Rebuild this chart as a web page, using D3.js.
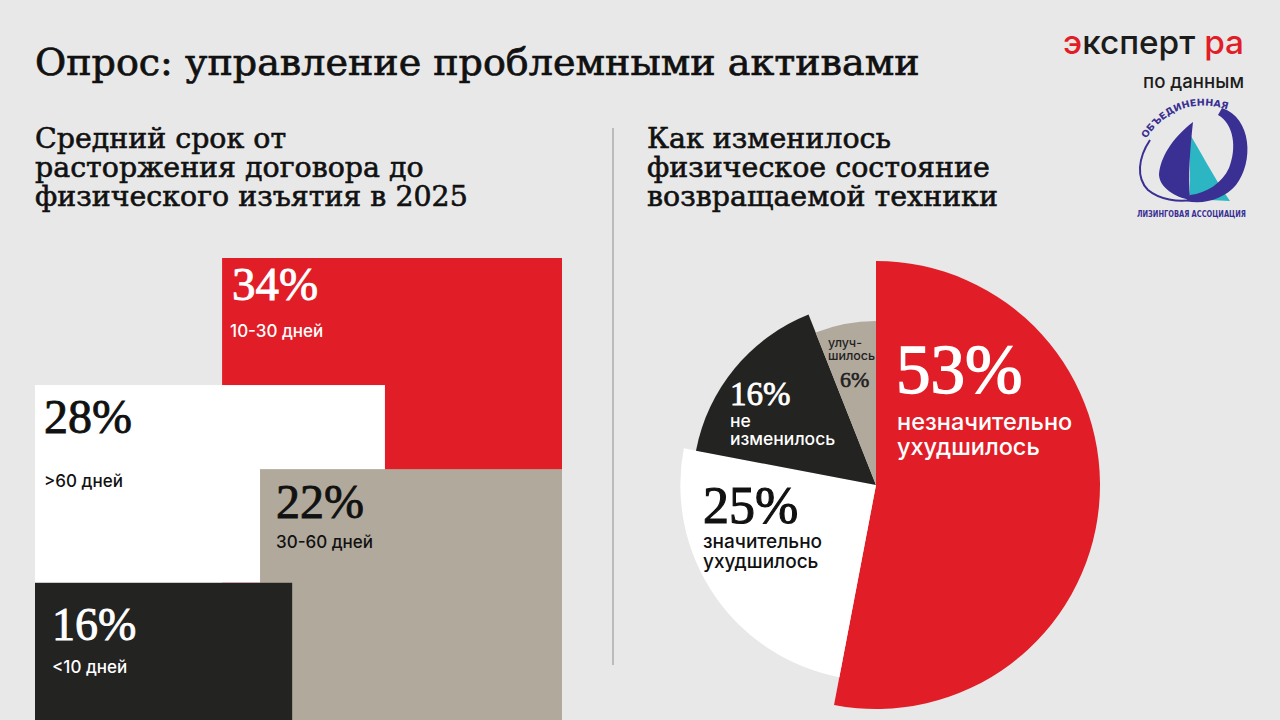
<!DOCTYPE html>
<html><head><meta charset="utf-8">
<script src="https://cdn.jsdelivr.net/npm/d3@7"></script>
<style>html,body{margin:0;padding:0;background:#e8e8e8;} svg{display:block}</style>
</head><body><svg id="c" width="1280" height="720"></svg>
<script>
// ---------- data ----------
const titleText = "Опрос: управление проблемными активами";
const leftSubtitle = ["Средний срок от", "расторжения договора до", "физического изъятия в 2025"];
const rightSubtitle = ["Как изменилось", "физическое состояние", "возвращаемой техники"];

const termCategories = ["10-30 дней", ">60 дней", "30-60 дней", "<10 дней"];
const termValues = [34, 28, 22, 16];

const stateCategories = [["незначительно", "ухудшилось"], ["значительно", "ухудшилось"], ["не", "изменилось"], ["улуч-", "шилось"]];
const stateValues = [53, 25, 16, 6];

const sourceLines = ["эксперт ра", "по данным"];
const assocLines = ["ОБЪЕДИНЕННАЯ", "ЛИЗИНГОВАЯ АССОЦИАЦИЯ"];

// ---------- styles / layout ----------
const C = { bg: "#e8e8e8", red: "#e11e27", white: "#ffffff", beige: "#b1a99c", dark: "#232321", blue: "#3a2f93", teal: "#2cb5c2" };
const termColors = [C.red, C.white, C.beige, C.dark];
const termText = ["#ffffff", "#111111", "#111111", "#ffffff"];
const stateColors = [C.red, C.white, C.dark, C.beige];
const stateText = ["#ffffff", "#111111", "#ffffff", "#222222"];

const SERIF = "'DejaVu Serif', serif";
const NUM = "'Liberation Serif', 'Times New Roman', serif";
const SANS = "Inter, 'Open Sans', sans-serif";

const svg = d3.select("#c");
svg.append("rect").attr("width", 1280).attr("height", 720).attr("fill", C.bg);

function fitBlock(sel, target) {
  let w = 0;
  sel.each(function () { w = Math.max(w, this.getComputedTextLength()); });
  const fs = parseFloat(sel.attr("font-size"));
  sel.attr("font-size", fs * target / w);
}

// ---------- titles ----------
const t = svg.append("text").attr("x", 35).attr("y", 75).attr("font-family", SERIF)
  .attr("font-size", 36).attr("fill", "#111").attr("stroke", "#111").attr("stroke-width", 0.7)
  .text(titleText);
fitBlock(t, 885);

const subL = svg.append("g").selectAll("text").data(leftSubtitle).join("text")
  .attr("x", 35).attr("y", (d, i) => 148 + i * 29).attr("font-family", SERIF)
  .attr("font-size", 28).attr("fill", "#111").attr("stroke", "#111").attr("stroke-width", 0.6)
  .text(d => d);
fitBlock(subL, 433);
const subR = svg.append("g").selectAll("text").data(rightSubtitle).join("text")
  .attr("x", 647).attr("y", (d, i) => 148 + i * 29).attr("font-family", SERIF)
  .attr("font-size", 28).attr("fill", "#111").attr("stroke", "#111").attr("stroke-width", 0.6)
  .text(d => d);
fitBlock(subR, 351);

svg.append("line").attr("x1", 613).attr("x2", 613).attr("y1", 128).attr("y2", 665)
  .attr("stroke", "#8e8e8e").attr("stroke-width", 1);

// ---------- left: overlapping blocks ----------
const px = d3.scaleLinear().domain([0, 100]).range([35, 562]);
const py = d3.scaleLinear().domain([0, 100]).range([258, 720]);
// block extents in panel units (0..100), drawing order and label offsets
const blockLayout = [
  { x: [35.5, 100], y: [0, 100], z: 0, pct: [10, 42], lab: [8, 79], fs: 47 },
  { x: [0, 66.4], y: [27.5, 70.3], z: 1, pct: [9, 48], lab: [9, 102], fs: 48 },
  { x: [42.7, 100], y: [45.7, 100], z: 2, pct: [16, 49], lab: [16, 79], fs: 48 },
  { x: [0, 48.8], y: [70.3, 100], z: 3, pct: [17, 57], lab: [17, 90], fs: 46 }
];
const blocks = termValues.map((v, i) => ({ v, cat: termCategories[i], i, L: blockLayout[i] }))
  .sort((a, b) => a.L.z - b.L.z);
const bg = svg.append("g").selectAll("g").data(blocks).join("g");
bg.append("rect")
  .attr("x", d => px(d.L.x[0])).attr("y", d => py(d.L.y[0]))
  .attr("width", d => px(d.L.x[1]) - px(d.L.x[0]))
  .attr("height", d => py(d.L.y[1]) - py(d.L.y[0]))
  .attr("fill", d => termColors[d.i]);
bg.append("text")
  .attr("x", d => px(d.L.x[0]) + d.L.pct[0]).attr("y", d => py(d.L.y[0]) + d.L.pct[1])
  .attr("font-family", NUM).attr("font-size", d => d.L.fs).attr("fill", d => termText[d.i])
  .attr("stroke", d => termText[d.i]).attr("stroke-width", 0.9)
  .text(d => d.v + "%");
bg.append("text")
  .attr("x", d => px(d.L.x[0]) + d.L.lab[0]).attr("y", d => py(d.L.y[0]) + d.L.lab[1])
  .attr("font-family", SANS).attr("font-weight", 500).attr("font-size", 17).attr("fill", d => termText[d.i])
  .text(d => d.cat);

// ---------- right: pie with varying radii ----------
const cx = 876, cy = 485;
const rScale = d3.scalePow().exponent(0.5).domain([6, 53]).range([164, 224]);
const pie = d3.pie().sort(null).value(d => d).startAngle(0).endAngle(2 * Math.PI);
const arcs = pie(stateValues);
const pg = svg.append("g").attr("transform", `translate(${cx},${cy})`);
pg.selectAll("path").data(arcs).join("path")
  .attr("d", d => d3.arc().innerRadius(0).outerRadius(rScale(d.data))(d))
  .attr("fill", (d, i) => stateColors[i]);

// label layout relative to centre
const pieLabelLayout = [
  { pct: [20, -92], pfs: 69, sw: 1.4, lab: [21, -55], lfs: 23.5, lh: 25 },
  { pct: [-173, 38], pfs: 52, sw: 1.1, lab: [-173, 63], lfs: 19, lh: 20 },
  { pct: [-146, -80], pfs: 33, sw: 0.8, lab: [-146, -58], lfs: 17.5, lh: 17.5 },
  { pct: [-36, -98], pfs: 22, sw: 0.6, lab: [-48, -138], lfs: 12.5, lh: 12.5 }
];
arcs.forEach((a, i) => {
  const L = pieLabelLayout[i];
  pg.append("text").attr("x", L.pct[0]).attr("y", L.pct[1])
    .attr("font-family", NUM).attr("font-size", L.pfs).attr("fill", stateText[i])
    .attr("stroke", stateText[i]).attr("stroke-width", L.sw)
    .text(a.data + "%");
  stateCategories[i].forEach((line, j) => {
    pg.append("text").attr("x", L.lab[0]).attr("y", L.lab[1] + j * L.lh)
      .attr("font-family", SANS).attr("font-weight", 500).attr("font-size", L.lfs).attr("fill", stateText[i])
      .text(line);
  });
});

// ---------- source logos ----------
const logo = svg.append("text").attr("x", 1244).attr("y", 54).attr("text-anchor", "end")
  .attr("font-family", SANS).attr("font-weight", 500).attr("font-size", 26);
const parts = [[sourceLines[0].slice(0, 1), C.red], [sourceLines[0].slice(1, 8), "#1c1c1c"], [sourceLines[0].slice(8), C.red]];
parts.forEach(p => logo.append("tspan").attr("fill", p[1]).text(p[0]));
fitBlock(logo, 181);
const pd = svg.append("text").attr("x", 1244).attr("y", 88).attr("text-anchor", "end")
  .attr("font-family", SANS).attr("font-weight", 500).attr("font-size", 19).attr("fill", "#1c1c1c").text(sourceLines[1]);
fitBlock(pd, 101);

const lg = svg.append("g");
// teal sail
lg.append("path").attr("fill", C.teal)
  .attr("d", "M1186,128 C1200,150 1214,178 1230,201 L1189,199 C1191,175 1190,150 1186,128 Z");
// dark sail
lg.append("path").attr("fill", C.blue)
  .attr("d", "M1193,122 C1172,138 1160,158 1159,175 C1160,188 1175,197 1190,200 C1188,175 1190,150 1193,122 Z");
// thin left arc
lg.append("path").attr("fill", "none").attr("stroke", C.blue).attr("stroke-width", 2)
  .attr("d", "M1150,140 C1138,158 1136,178 1148,190 C1160,200 1178,202 1192,200");
// thick right crescent
lg.append("path").attr("fill", C.blue)
  .attr("d", "M1222,108 C1252,118 1254,162 1236,185 C1224,199 1204,205 1186,201 L1190,195 C1207,193 1222,183 1229,168 C1237,148 1234,124 1218,115 Z");
// curved text
lg.append("path").attr("id", "assocArc").attr("fill", "none").attr("d", "M1146,139 Q1178,92 1232,111");
lg.append("text").attr("font-family", "'DejaVu Sans Condensed', 'DejaVu Sans', sans-serif")
  .attr("font-weight", "bold").attr("font-size", 9.5).attr("fill", C.blue)
  .append("textPath").attr("href", "#assocArc").attr("textLength", 94).attr("lengthAdjust", "spacingAndGlyphs")
  .text(assocLines[0]);
lg.append("text").attr("x", 1137).attr("y", 217).attr("font-family", "'DejaVu Sans Condensed', 'DejaVu Sans', sans-serif")
  .attr("font-weight", "bold").attr("font-size", 9).attr("fill", C.blue)
  .attr("textLength", 109).attr("lengthAdjust", "spacingAndGlyphs").text(assocLines[1]);
</script></body></html>
